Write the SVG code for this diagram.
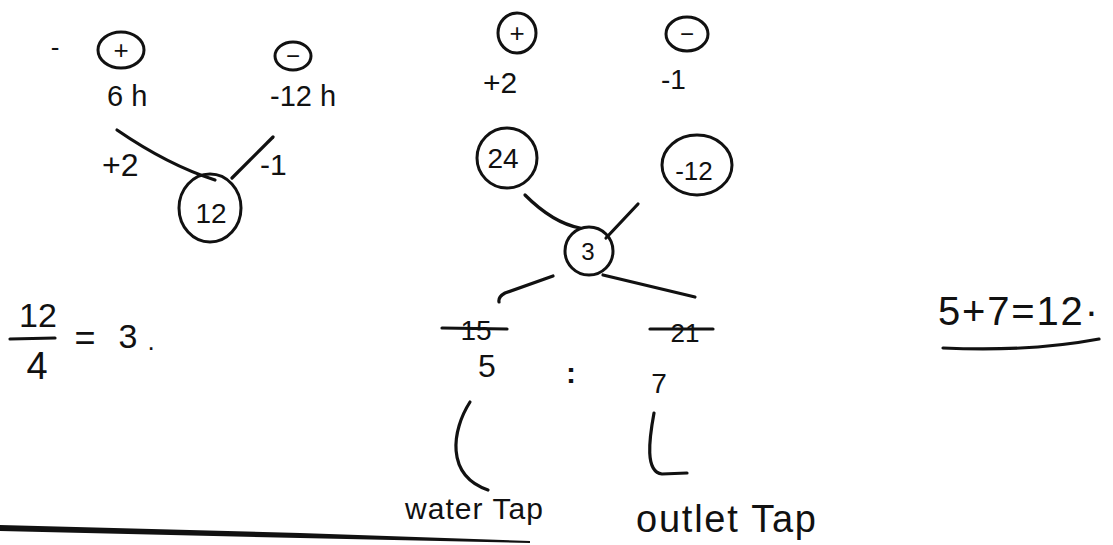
<svg xmlns="http://www.w3.org/2000/svg" width="1113" height="545" viewBox="0 0 1113 545">
<style>
  .ring { fill: none; stroke: #111; stroke-width: 3; }
  .ln { fill: none; stroke: #111; stroke-width: 3.2; stroke-linecap: round; stroke-linejoin: round; }
  text { font-family: "Liberation Sans", "DejaVu Sans", sans-serif; fill: #111; }
  .m { text-anchor: middle; }
</style>
<rect width="1113" height="545" fill="#ffffff"/>

<!-- Left tree -->
<g id="dash-left"><text x="55" y="56" font-size="26" class="m">-</text></g>
<g id="plus-left">
  <ellipse cx="121" cy="50" rx="23" ry="18" class="ring"/>
  <text x="121" y="59" font-size="26" class="m">+</text>
</g>
<g id="minus-left">
  <ellipse cx="293" cy="56" rx="18" ry="14" class="ring"/>
  <text x="293" y="64" font-size="24" class="m">−</text>
</g>
<g id="label-6h"><text x="107" y="106" font-size="29">6 h</text></g>
<g id="label-12h"><text x="270" y="106" font-size="29">-12 h</text></g>
<g id="label-plus2-left"><text x="102" y="176" font-size="32">+2</text></g>
<g id="label-minus1-left"><text x="260" y="175" font-size="30">-1</text></g>
<g id="node-12">
  <ellipse cx="210" cy="208" rx="31" ry="34" class="ring"/>
  <text x="211" y="223" font-size="28" class="m">12</text>
</g>

<!-- Fraction -->
<g id="fraction">
  <text x="38" y="327" font-size="34" class="m">12</text>
  <line x1="10" y1="339" x2="55" y2="338" class="ln"/>
  <text x="37" y="379" font-size="38" class="m">4</text>
  <text x="85" y="350" font-size="36" class="m">=</text>
  <text x="128" y="348" font-size="34" class="m">3</text>
  <text x="151" y="350" font-size="26" class="m">.</text>
</g>

<!-- Middle tree -->
<g id="plus-mid">
  <ellipse cx="517" cy="33" rx="19" ry="20" class="ring"/>
  <text x="517" y="42" font-size="26" class="m">+</text>
</g>
<g id="minus-mid">
  <ellipse cx="687" cy="34" rx="21" ry="17" class="ring"/>
  <text x="687" y="42" font-size="24" class="m">−</text>
</g>
<g id="label-plus2-mid"><text x="483" y="93" font-size="30">+2</text></g>
<g id="label-minus1-mid"><text x="661" y="89" font-size="28">-1</text></g>
<g id="node-24">
  <ellipse cx="507" cy="158" rx="30" ry="30" class="ring"/>
  <text x="503" y="168" font-size="28" class="m">24</text>
</g>
<g id="node-m12">
  <ellipse cx="697" cy="165" rx="35" ry="30" class="ring"/>
  <text x="694" y="180" font-size="26" class="m">-12</text>
</g>
<g id="node-3">
  <ellipse cx="589" cy="251" rx="24" ry="24" class="ring"/>
  <text x="588" y="260" font-size="24" class="m">3</text>
</g>
<g id="label-15">
  <text x="476" y="340" font-size="28" class="m">15</text>
  <line x1="442" y1="328" x2="507" y2="329" class="ln" stroke-width="2.5"/>
</g>
<g id="label-21">
  <text x="685" y="342" font-size="26" class="m">21</text>
  <line x1="650" y1="329" x2="713" y2="329" class="ln" stroke-width="2.5"/>
</g>
<g id="label-5"><text x="487" y="377" font-size="32" class="m">5</text></g>
<g id="label-colon"><text x="571" y="383" font-size="30" class="m" font-weight="bold">:</text></g>
<g id="label-7"><text x="659" y="393" font-size="28" class="m">7</text></g>
<g id="label-water"><text x="405" y="519" font-size="30" textLength="138">water Tap</text></g>
<g id="label-outlet"><text x="636" y="532" font-size="38" textLength="180">outlet Tap</text></g>

<!-- Right -->
<g id="sum">
  <text x="938" y="325" font-size="40" textLength="160">5+7=12·</text>
  <path d="M943,348 Q1030,352 1099,339" class="ln"/>
</g>

<!-- Connectors -->
<g id="connectors">
  <path d="M117,130 Q168,165 215,180" class="ln"/>
  <path d="M273,137 L232,178" class="ln"/>
  <path d="M525,195 Q553,223 580,228" class="ln"/>
  <path d="M638,204 L606,238" class="ln"/>
  <path d="M553,276 L505,293 Q498,297 499,302" class="ln"/>
  <path d="M603,275 L695,297" class="ln"/>
  <path d="M470,402 C452,430 445,475 488,490" class="ln"/>
  <path d="M654,413 C649,440 645,472 662,474 L687,473" class="ln"/>
</g>

<!-- Bottom rule -->
<g id="rule">
  <path d="M0,525 L300,533 L530,541 L530,543 L300,538 L0,531 Z" fill="#111"/>
</g>
</svg>
